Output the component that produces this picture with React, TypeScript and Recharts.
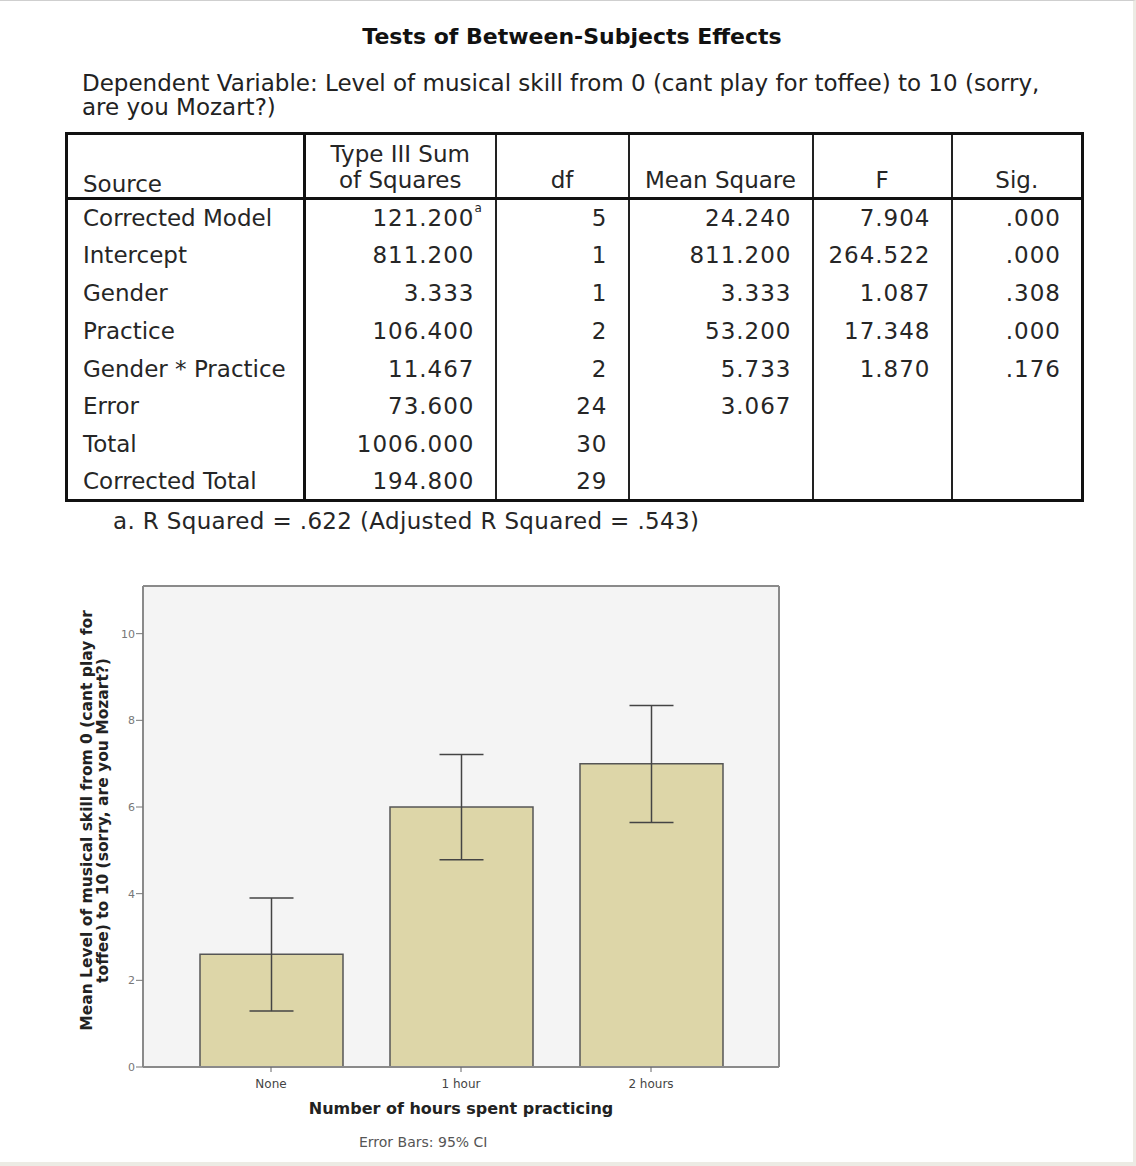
import { ComposedChart, Bar, XAxis, YAxis, CartesianGrid, ErrorBar, Label } from 'recharts'

const FONT = '"DejaVu Sans", "Liberation Sans", sans-serif'

// chart data
const practiceLevels = ['None', '1 hour', '2 hours']
const meanSkill = [2.6, 6.0, 7.0]
const ciLower = [1.29, 4.78, 5.64]
const ciUpper = [3.9, 7.21, 8.34]
const yTicks = [0, 2, 4, 6, 8, 10]

// table data
const sources = ['Corrected Model', 'Intercept', 'Gender', 'Practice', 'Gender * Practice', 'Error', 'Total', 'Corrected Total']
const sumSquares = ['121.200', '811.200', '3.333', '106.400', '11.467', '73.600', '1006.000', '194.800']
const dfs = ['5', '1', '1', '2', '2', '24', '30', '29']
const meanSquares = ['24.240', '811.200', '3.333', '53.200', '5.733', '3.067', '', '']
const fValues = ['7.904', '264.522', '1.087', '17.348', '1.870', '', '', '']
const sigValues = ['.000', '.000', '.308', '.000', '.176', '', '', '']

const chartData = practiceLevels.map((p, i) => ({
    practice: p,
    mean: meanSkill[i],
    ci: [meanSkill[i] - ciLower[i], ciUpper[i] - meanSkill[i]],
}))

const thin = '2px solid #222'
const thick = '3px solid #111'
const frame = { stroke: '#8a8a8a', strokeWidth: 2 }

function YTitle({ viewBox }: any) {
    const cy = viewBox.y + viewBox.height / 2
    return (
        <g transform={`translate(94, ${cy - 6}) rotate(-90)`}>
            <text textAnchor="middle" fontWeight="bold" fontSize={15.5} fill="#222" fontFamily={FONT}>
                <tspan x={0} y={-2}>Mean Level of musical skill from 0 (cant play for</tspan>
                <tspan x={0} y={14}>toffee) to 10 (sorry, are you Mozart?)</tspan>
            </text>
        </g>
    )
}

function XTitle({ viewBox }: any) {
    const cx = viewBox.x + viewBox.width / 2
    return (
        <g fontFamily={FONT}>
            <text x={cx} y={viewBox.y + 47} textAnchor="middle" fontWeight="bold" fontSize={16} fill="#222">
                Number of hours spent practicing
            </text>
            <text x={cx - 102} y={viewBox.y + 80} fontSize={14} fill="#555">
                Error Bars: 95% CI
            </text>
        </g>
    )
}

function SkillTable() {
    const cell = { padding: '0 20px 0 10px', textAlign: 'right' as const, borderLeft: thin, letterSpacing: 1 }
    const head = { fontWeight: 'normal' as const, borderLeft: thin, padding: '0 0 4px' }
    return (
        <table
            style={{
                position: 'absolute',
                left: 65,
                top: 131,
                width: 1017,
                borderCollapse: 'collapse',
                tableLayout: 'fixed',
                border: thick,
                fontFamily: FONT,
                fontSize: 23,
                color: '#262626',
            }}
        >
            <colgroup>
                <col style={{ width: 238 }} />
                <col style={{ width: 191 }} />
                <col style={{ width: 133 }} />
                <col style={{ width: 184 }} />
                <col style={{ width: 139 }} />
                <col style={{ width: 131 }} />
            </colgroup>
            <thead>
                <tr style={{ height: 65, borderBottom: thick, verticalAlign: 'bottom', lineHeight: '26px' }}>
                    <th style={{ textAlign: 'left', fontWeight: 'normal', padding: '0 0 0 15px', borderRight: thick }}>Source</th>
                    <th style={{ ...head, borderLeft: 'none' }}>Type III Sum<br />of Squares</th>
                    <th style={head}>df</th>
                    <th style={head}>Mean Square</th>
                    <th style={head}>F</th>
                    <th style={head}>Sig.</th>
                </tr>
            </thead>
            <tbody>
                {sources.map((s, i) => (
                    <tr key={s} style={{ height: 37.8 }}>
                        <td style={{ padding: '0 0 0 15px', borderRight: thick, whiteSpace: 'nowrap' }}>{s}</td>
                        <td style={{ ...cell, borderLeft: 'none' }}>
                            {sumSquares[i]}
                            {i === 0 && <sup style={{ fontSize: 12, position: 'absolute', marginTop: -4 }}>a</sup>}
                        </td>
                        <td style={cell}>{dfs[i]}</td>
                        <td style={cell}>{meanSquares[i]}</td>
                        <td style={cell}>{fValues[i]}</td>
                        <td style={cell}>{sigValues[i]}</td>
                    </tr>
                ))}
            </tbody>
        </table>
    )
}

export default function App() {
    return (
        <div
            style={{
                position: 'absolute',
                left: 0,
                top: 0,
                width: 1136,
                height: 1166,
                boxSizing: 'border-box',
                background: '#fff',
                borderTop: '1px solid #cfcfcf',
                borderRight: '3px solid #ecebe4',
                borderBottom: '4px solid #ecebe4',
                overflow: 'hidden',
                fontFamily: FONT,
            }}
        >
            <div style={{ position: 'absolute', left: 0, width: 1136, top: 23, textAlign: 'center', paddingLeft: 4, fontSize: 22, fontWeight: 'bold', color: '#111' }}>
                Tests of Between-Subjects Effects
            </div>
            <div style={{ position: 'absolute', left: 82, top: 70, width: 1040, fontSize: 23, lineHeight: '24px', color: '#222', whiteSpace: 'nowrap' }}>
                Dependent Variable: Level of musical skill from 0 (cant play for toffee) to 10 (sorry,
                <br />
                are you Mozart?)
            </div>
            <SkillTable />
            <div style={{ position: 'absolute', left: 113, top: 507, fontSize: 23, letterSpacing: 0.35, color: '#262626', whiteSpace: 'nowrap' }}>
                a. R Squared = .622 (Adjusted R Squared = .543)
            </div>

            <div style={{ position: 'absolute', left: 0, top: 560 }}>
                <ComposedChart
                    width={800}
                    height={606}
                    data={chartData}
                    margin={{ top: 24, right: 20, left: 60, bottom: 70 }}
                >
                    <CartesianGrid fill="#f4f4f4" horizontal={false} vertical={false} />
                    <XAxis
                        dataKey="practice"
                        padding={{ left: 33, right: 33 }}
                        height={30}
                        axisLine={frame}
                        tickLine={{ stroke: '#666' }}
                        tickSize={5}
                        tickMargin={7}
                        tick={{ fontSize: 12, fill: '#444', fontFamily: FONT }}
                    >
                        <Label content={<XTitle />} />
                    </XAxis>
                    <XAxis
                        xAxisId="top"
                        orientation="top"
                        dataKey="practice"
                        height={1}
                        tick={false}
                        tickLine={false}
                        axisLine={frame}
                    />
                    <YAxis
                        domain={[0, 11.1]}
                        ticks={yTicks}
                        width={83}
                        axisLine={frame}
                        tickLine={{ stroke: '#777' }}
                        tickSize={7}
                        tickMargin={1}
                        tick={{ fontSize: 11, fill: '#777', fontFamily: FONT }}
                    >
                        <Label content={<YTitle />} />
                    </YAxis>
                    <YAxis
                        yAxisId="right"
                        orientation="right"
                        domain={[0, 11.1]}
                        width={1}
                        tick={false}
                        tickLine={false}
                        axisLine={frame}
                    />
                    <Bar dataKey="mean" barSize={143} fill="#ddd6a8" stroke="#555" strokeWidth={1.5} isAnimationActive={false}>
                        <ErrorBar dataKey="ci" width={22} stroke="#444" strokeWidth={1.5} direction="y" isAnimationActive={false} />
                    </Bar>
                </ComposedChart>
            </div>
        </div>
    )
}
